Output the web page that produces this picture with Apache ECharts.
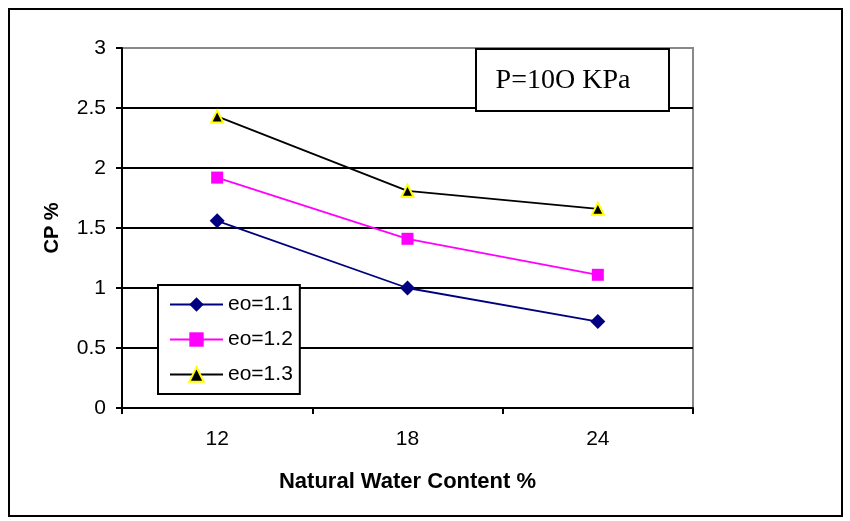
<!DOCTYPE html>
<html><head><meta charset="utf-8">
<script src="https://cdn.jsdelivr.net/npm/echarts@6/dist/echarts.min.js"></script>
<style>html,body{margin:0;padding:0;background:#fff}#c{width:850px;height:521px}</style>
</head><body><div id="c"></div>
<script>
const categories = ['12', '18', '24'];
const eo11 = [1.56, 1.0, 0.72];
const eo12 = [1.92, 1.41, 1.11];
const eo13 = [2.43, 1.81, 1.66];
const seriesNames = ['eo=1.1', 'eo=1.2', 'eo=1.3'];
const yTicks = { min: 0, max: 3, interval: 0.5 };

const chart = echarts.init(document.getElementById('c'), null, {renderer: 'canvas'});
const font = 'Arial, "Liberation Sans", sans-serif';
chart.setOption({
  animation: false,
  backgroundColor: '#fff',
  grid: { left: 122, top: 48, right: 157, bottom: 113, show: true, borderColor: '#888', borderWidth: 2, backgroundColor: '#fff' },
  xAxis: {
    type: 'category', data: categories, boundaryGap: true,
    name: 'Natural Water Content %', nameLocation: 'middle', nameGap: 63,
    nameTextStyle: { fontFamily: font, fontWeight: 'bold', fontSize: 22, color: '#000' },
    axisLine: { lineStyle: { color: '#000', width: 2 } },
    axisTick: { show: true, inside: false, length: 6, lineStyle: { color: '#000', width: 2 } },
    axisLabel: { fontFamily: font, fontSize: 21, color: '#000', margin: 21 },
    splitLine: { show: false }
  },
  yAxis: {
    type: 'value', min: yTicks.min, max: yTicks.max, interval: yTicks.interval,
    name: 'CP %', nameLocation: 'middle', nameGap: 60,
    nameTextStyle: { fontFamily: font, fontWeight: 'bold', fontSize: 20, color: '#000' },
    axisLine: { show: true, lineStyle: { color: '#000', width: 2 } },
    axisTick: { show: true, inside: false, length: 6, lineStyle: { color: '#000', width: 2 } },
    axisLabel: { fontFamily: font, fontSize: 21, color: '#000', margin: 16 },
    splitLine: { show: true, lineStyle: { color: ['#000', '#000', '#000', '#000', '#000', '#000', '#888'], width: 2 } }
  },
  legend: {
    orient: 'vertical', left: 158, top: 285,
    backgroundColor: '#fff', borderColor: '#000', borderWidth: 2,
    padding: [9, 7, 9, 11], itemGap: 14, itemWidth: 53, itemHeight: 18, itemTextGap: 6,
    textStyle: { fontFamily: font, fontSize: 21, color: '#000' },
    data: seriesNames
  },
  series: [
    { name: seriesNames[0], type: 'line', data: eo11, symbol: 'diamond', symbolSize: 15,
      lineStyle: { color: '#000080', width: 1.8 }, itemStyle: { color: '#000080' } },
    { name: seriesNames[1], type: 'line', data: eo12, symbol: 'rect', symbolSize: 12,
      lineStyle: { color: '#ff00ff', width: 1.8 }, itemStyle: { color: '#ff00ff' } },
    { name: seriesNames[2], type: 'line', data: eo13, symbol: 'triangle', symbolSize: 12,
      lineStyle: { color: '#000', width: 1.8 }, itemStyle: { color: '#000', borderColor: '#ffff00', borderWidth: 2 } }
  ],
  graphic: [
    { type: 'rect', shape: { x: 9, y: 9, width: 833, height: 507 }, style: { fill: 'none', stroke: '#000', lineWidth: 2 }, z: 100 },
    { type: 'rect', shape: { x: 476, y: 49, width: 193, height: 62 }, style: { fill: '#fff', stroke: '#000', lineWidth: 2 }, z: 100 },
    { type: 'text', x: 563, y: 81, style: { text: 'P=10O KPa', font: '28px "Liberation Serif", "Times New Roman", serif', fill: '#000', align: 'center', verticalAlign: 'middle' }, z: 101 }
  ]
});
</script></body></html>
